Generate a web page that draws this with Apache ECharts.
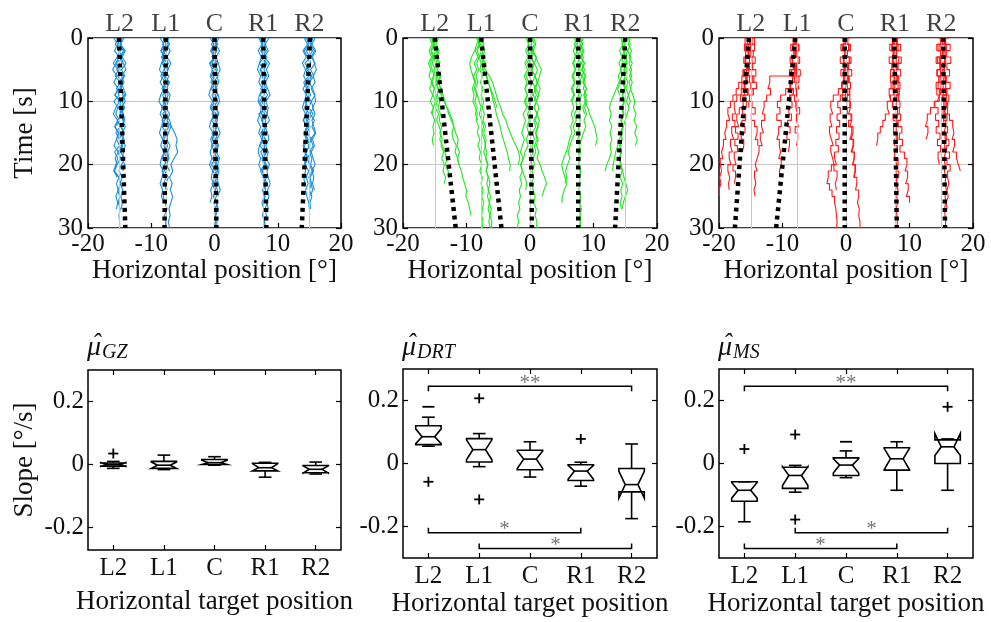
<!DOCTYPE html>
<html>
<head>
<meta charset="utf-8">
<title>Gaze trajectories and slopes</title>
<script src="https://cdn.jsdelivr.net/npm/echarts@6/dist/echarts.min.js"></script>
<style>
  html, body { margin: 0; padding: 0; background: #fff; }
  #chart { width: 991px; height: 622px; }
</style>
</head>
<body>
<div id="chart"></div>
<script>
// ---- values ----
const targetLabels = ['L2', 'L1', 'C', 'R1', 'R2'];
const targetPositions = [-15, -7.7, 0, 7.7, 15];
const sampleTimes = [0, 1, 2, 3, 4, 5, 6, 7, 8, 9, 10, 11, 12, 13, 14, 15, 16, 17, 18, 19, 20,
  21, 22, 23, 24, 25, 26, 27, 28, 29, 30];
const fitTimes = [0, 30];

// dotted fit lines: position at t = 0 and at t = 30
const gzFitStart = [-15.1, -7.7, 0, 7.7, 15.1];
const gzFitEnd = [-14.1, -7.9, 0.3, 8.2, 13.8];
const drtFitStart = [-15, -7.7, 0, 7.6, 15];
const drtFitEnd = [-11.7, -4.5, 0.3, 7.6, 13.4];
const msFitStart = [-15.3, -8.0, -0.2, 7.6, 15.3];
const msFitEnd = [-17.5, -11.0, -0.2, 8.0, 15.6];

// trajectories, one x value per second
const gzTraces = [
  [-15.4,-14.7,-15.2,-14.5,-15.6,-14.9,-15.3,-14.6,-15.1,-15.8,-14.8,-15.2,-14.5,-15.4,-14.9,-15.6,-15.0,-14.6,-15.3,-14.8,-15.5,-15.9,-15.1,-14.8,-15.3,-15.0,-15.2,-14.9,-15.1,-15.0,-15.0],
  [-14.8,-15.3,-14.4,-15.0,-14.6,-15.5,-14.3,-15.1,-14.7,-14.2,-15.2,-14.6,-15.0,-14.3,-14.8,-14.4,-15.1,-14.5,-14.9,-14.2,-14.7,-15.1,-14.6,-14.9,-14.5,-14.8,-14.6,-14.7],
  [-15.1,-15.7,-14.9,-15.4,-16.0,-15.2,-15.7,-14.9,-15.5,-15.1,-15.9,-15.3,-15.6,-15.0,-15.7,-15.2,-15.5,-15.0,-15.8,-15.3,-15.6,-15.9,-15.4],
  [-14.6,-15.0,-14.2,-14.8,-14.4,-14.0,-14.7,-14.3,-14.9,-14.5,-14.1,-14.8,-14.4,-14.2,-14.7,-14.3,-14.6,-14.1,-14.5],
  [-15.9,-15.3,-15.8,-15.1,-15.6,-16.1,-15.4,-15.9,-15.2,-15.7,-15.0,-15.6,-16.0,-15.3,-15.8,-15.1,-15.5,-15.9,-15.2,-15.7,-15.4,-15.8,-15.1,-15.5,-15.2,-15.6,-15.3,-15.5],
  [-14.3,-14.9,-14.1,-14.6,-14.0,-14.7,-14.2,-14.8,-14.4,-14.0,-14.6,-14.2,-14.9,-14.5,-14.1,-14.7,-14.3,-14.8,-14.4,-14.6,-14.2,-14.5],
  [-7.9,-7.3,-8.1,-7.6,-8.3,-7.5,-7.9,-7.2,-8.0,-7.6,-8.2,-7.4,-7.8,-7.1,-6.8,-6.3,-5.9,-6.1,-5.8,-6.4,-6.9,-6.6,-7.1,-6.7,-7.0,-6.6,-6.9,-7.2,-7.0,-7.3,-7.1],
  [-7.5,-8.2,-7.7,-8.4,-7.9,-7.3,-8.0,-7.6,-8.3,-7.8,-7.4,-8.1,-7.7,-8.3,-7.5,-7.9,-8.2,-7.6,-8.0,-7.5,-7.9,-8.3,-7.7,-8.0,-7.6,-8.1,-7.8,-7.5,-7.9,-7.7,-7.8],
  [-8.1,-7.6,-8.4,-7.8,-7.3,-8.0,-8.5,-7.7,-7.4,-8.2,-7.8,-8.4,-7.5,-7.9,-8.3,-7.6,-8.0,-7.4,-7.8,-8.2,-7.5,-7.9,-7.3,-7.7,-7.5],
  [-7.6,-7.1,-7.8,-8.3,-7.4,-8.0,-7.2,-7.7,-8.1,-7.3,-7.9,-7.5,-8.2,-7.6,-7.2,-7.8,-7.4,-8.0,-7.6,-7.3,-7.7],
  [-8.6,-8.0,-8.5,-7.9,-8.4,-8.7,-8.1,-8.6,-8.0,-8.5,-8.8,-8.2,-8.6,-8.1,-8.4,-8.7,-8.2,-8.5,-8.0,-8.4,-8.6,-8.1,-8.3,-8.6,-8.2,-8.4,-8.0],
  [-7.2,-7.7,-7.0,-7.5,-6.9,-7.4,-7.8,-7.1,-7.6,-7.0,-7.3,-7.7,-7.1,-7.5,-6.9,-7.3,-7.6,-7.0,-7.4,-7.2,-7.6,-7.1],
  [0.2,-0.5,0.4,-0.2,0.6,-0.4,0.1,-0.6,0.3,-0.1,0.5,-0.3,0.2,-0.5,0.4,0.0,-0.4,0.3,-0.2,0.6,0.1,-0.3,0.4,0.0,0.5,-0.2,0.3,0.6,0.1,0.4,0.3],
  [-0.3,0.3,-0.6,0.1,-0.4,0.5,-0.2,0.3,-0.5,0.2,-0.1,0.4,-0.4,0.1,-0.3,0.5,0.2,-0.5,0.1,-0.2,0.4,-0.1,0.2,-0.4,0.1,0.3,-0.1,0.2,0.0,0.2,0.1],
  [0.0,0.5,-0.3,0.3,-0.7,0.2,0.6,-0.2,0.4,-0.4,0.1,-0.6,0.3,0.5,-0.1,0.3,-0.3,0.6,-0.1,0.2,-0.5,0.3,-0.2,0.5,0.1,-0.1,0.4,0.2,0.3],
  [0.4,-0.1,0.2,-0.4,0.3,0.0,-0.5,0.4,-0.2,0.5,-0.3,0.2,0.6,-0.1,0.3,-0.4,0.2,-0.1,0.4,-0.3,0.1,0.5,0.0],
  [-0.7,-0.1,-0.6,0.0,-0.8,-0.3,-0.7,-0.2,-0.6,-0.9,-0.3,-0.7,-0.1,-0.5,-0.8,-0.2,-0.6,-0.3,-0.7,-0.4,-0.8,-0.3,-0.5,-0.2,-0.6,-0.4,-0.7],
  [0.7,0.2,0.8,0.3,0.6,0.9,0.4,0.7,0.1,0.6,0.8,0.3,0.7,0.2,0.5,0.9,0.4,0.6,0.3,0.8,0.5,0.7,0.4,0.6,0.9,0.5],
  [7.5,8.1,7.3,7.9,7.1,7.8,8.3,7.4,7.9,7.2,8.0,7.6,8.4,7.5,7.9,7.3,8.1,7.7,8.3,7.6,8.0,7.5,8.2,7.8,8.1,7.7,8.3,8.0,8.2,7.9,8.1],
  [7.9,7.4,8.2,7.6,8.0,7.2,7.7,8.1,7.3,7.8,7.4,8.2,7.0,7.6,8.0,7.4,7.7,7.2,7.9,7.5,7.8,7.3,7.7,8.1,7.6,7.9,7.5,7.8,7.6,7.9,7.8],
  [7.2,7.8,7.5,8.3,7.7,7.3,8.0,7.6,8.2,7.8,7.1,7.6,7.9,7.4,8.2,7.7,7.5,8.0,7.3,7.8,8.2,7.6,7.9,8.3,7.7,8.0,7.8],
  [8.1,7.6,7.9,7.4,8.3,7.8,7.5,8.0,7.7,8.4,7.6,7.9,7.4,8.1,7.8,7.5,8.0,7.7,8.2,7.6],
  [8.6,8.0,8.5,7.9,8.7,8.2,8.6,8.0,8.4,8.8,8.1,8.5,8.3,8.7,8.0,8.4,8.6,8.1,8.5,8.2,8.7,8.3,8.5,8.8,8.4,8.6,8.3,8.5],
  [7.0,7.5,6.9,7.4,7.1,6.8,7.3,7.0,7.6,7.1,6.9,7.4,7.2,6.8,7.3,7.0,7.5,7.1,6.9,7.3,7.0,7.4],
  [15.3,14.7,15.5,14.9,15.2,14.6,15.4,14.8,15.0,14.5,15.3,14.9,15.6,14.7,15.1,14.6,15.4,14.8,15.2,14.7,15.0,15.5,14.9,15.3,15.0,15.4,15.1,15.2],
  [14.8,15.4,14.5,15.1,14.3,14.9,15.3,14.4,14.8,15.2,14.6,14.3,15.0,14.5,14.9,14.2,14.7,15.1,14.4,14.8,14.3,14.9,14.5,14.8,14.4,14.6,14.9,15.0],
  [15.6,15.1,15.8,15.3,15.9,15.2,15.7,15.0,15.5,15.9,15.3,15.6,15.1,15.8,15.4,15.9,15.2,15.6,15.0,15.4,15.2,15.7,15.1,15.3,15.5,15.2],
  [14.5,15.0,14.2,14.7,15.1,14.4,14.9,14.1,14.6,15.0,14.3,14.8,14.5,14.0,14.6,14.3,14.8,14.2,14.5,14.1,14.4],
  [15.9,15.4,16.0,15.5,15.8,16.1,15.6,15.9,15.3,15.8,16.0,15.5,15.9,15.4,15.7,16.0,15.5,15.8,15.3,15.6,15.9,15.4,15.7,15.5,15.8],
  [14.2,14.7,14.0,14.5,13.9,14.4,14.1,14.6,14.0,14.5,14.2,13.9,14.4,14.1,14.6,14.2,14.5,14.0,14.3,14.6,14.2,14.4,14.1,14.3]
];
const drtTraces = [
  [-15.3,-15.0,-15.5,-15.1,-15.4,-14.9,-15.2,-15.6,-15.1,-15.3,-14.9,-15.2,-15.4,-15.0,-15.3,-15.1,-15.4,-15.2],
  [-14.8,-15.1,-14.7,-15.0,-14.6,-14.9,-14.5,-14.8,-14.4,-14.6,-14.2,-14.5,-14.1,-14.3,-13.9,-14.2,-13.8,-14.0,-13.6,-13.9,-13.5,-13.7,-13.3,-13.5],
  [-15.0,-15.3,-14.9,-15.2,-14.8,-15.0,-14.7,-14.9,-14.5,-14.0,-13.6,-13.0,-12.6,-12.2,-12.0,-12.3,-12.1,-11.6,-11.8,-11.4,-11.2,-10.8,-10.6,-10.3,-10.0,-10.1,-9.7,-9.5,-9.3],
  [-15.5,-15.2,-15.6,-15.3,-15.7,-15.4,-15.1,-15.4,-15.0,-14.8,-14.6,-14.9,-14.4,-14.7,-14.3,-14.0,-14.2,-13.8,-13.4,-13.1,-13.3,-12.9,-12.6],
  [-14.6,-14.9,-14.5,-14.8,-14.3,-14.6,-14.2,-14.5,-14.0,-13.7,-13.4,-13.1,-12.8,-12.4,-12.0,-11.7,-11.3,-11.5,-11.1,-11.4,-11.2],
  [-15.8,-15.4,-15.9,-15.5,-16.0,-15.6,-15.9,-15.4,-15.8,-15.3,-15.7,-15.2,-15.6],
  [-14.4,-14.8,-14.3,-14.7,-14.2,-14.6,-14.0,-14.4,-14.1,-13.8],
  [-7.8,-8.1,-7.6,-8.0,-7.7,-7.9,-7.5,-7.8,-7.4,-7.7,-7.3,-7.5,-7.2,-7.4,-7.0,-7.3,-6.9,-7.1,-6.8,-7.0,-6.7,-6.9,-6.6,-6.8,-6.5,-6.7,-6.4,-6.6,-6.3,-6.5,-6.2],
  [-8.0,-8.4,-8.7,-9.2,-9.5,-9.3,-9.0,-8.7,-9.1,-8.8,-9.0,-8.6,-8.3,-8.5,-8.1,-8.3,-7.9,-8.2,-7.8,-8.0,-7.6,-7.9,-7.5,-7.7,-7.4,-7.6,-7.3,-7.5,-7.6,-7.4,-7.5],
  [-7.6,-7.3,-7.7,-7.2,-7.5,-7.0,-6.4,-5.9,-5.6,-5.3,-5.0,-4.6,-4.3,-3.8,-3.5,-3.1,-2.7,-2.2,-1.8,-1.6,-1.9],
  [-7.5,-7.8,-7.4,-7.7,-7.2,-7.5,-6.8,-6.5,-6.3,-6.0,-5.8,-5.5,-5.3,-5.0,-4.7,-4.5,-4.2,-3.9,-3.6,-3.4,-3.1,-3.2],
  [-8.2,-7.9,-8.3,-8.0,-8.4,-8.1,-8.5,-8.2,-8.6,-8.3,-8.0,-7.7,-8.0,-7.6,-7.3,-7.6,-7.2,-7.0,-7.3,-6.9,-6.6,-6.9,-6.5,-6.3,-6.6,-6.2,-6.4,-6.1,-6.3,-6.0,-6.1],
  [-8.4,-8.0,-8.6,-8.2,-8.8,-8.4,-8.9,-8.5,-8.8,-8.4,-8.7,-8.3,-8.6,-8.2],
  [-7.3,-7.6,-7.1,-7.5,-7.0,-7.3,-6.9,-6.6,-6.2,-5.8,-5.5,-5.2],
  [0.1,-0.3,0.4,0.0,0.6,0.2,0.8,0.4,0.9,0.5,1.0,0.6,1.2,0.8,1.3,0.9,1.1,0.7,0.9,0.5,0.7,0.3,0.6,0.2,0.5,0.8,0.6,1.0,0.8,1.1,1.0],
  [-0.2,0.2,-0.4,0.0,-0.5,-0.1,-0.6,-0.2,-0.8,-0.4,-0.9,-0.5,-1.1,-0.7,-1.0,-1.3,-0.9,-1.2,-1.5,-1.1,-1.4,-1.2,-1.6,-1.3,-1.7,-1.5,-1.8,-1.6,-2.0,-1.8,-2.0],
  [0.3,0.7,0.2,0.9,1.3,1.8,1.5,1.2,1.6,1.3,1.0,1.4,1.1,1.5,1.2,0.9,1.3,1.0,1.4,1.1,1.6,1.9,2.3,2.6,2.2,1.9],
  [-0.1,0.3,-0.3,0.2,-0.2,0.4,-0.1,0.3,0.0,0.4,-0.2,0.1,-0.4,-0.1,-0.5,-0.2,-0.6,-0.3,-0.8,-1.0,-1.5,-1.2,-0.8,-0.5,-0.7],
  [0.5,0.1,0.6,0.2,0.7,0.3,0.8,1.2,0.9,1.4,1.0,0.7,1.1,0.6,0.9,0.4,0.7,0.3,0.5,0.1,0.3],
  [-0.6,-0.2,-0.7,-0.3,-0.8,-0.4,-0.9,-0.5,-0.8,-0.4,-0.7,-0.3],
  [0.6,0.9,0.5,1.0,0.7,1.2,0.8,1.1,0.7,1.0,0.6],
  [7.6,7.9,7.4,7.8,7.5,7.9,7.6,8.0,7.7,8.1,7.8,8.0,7.7,7.9,7.6,7.8,7.5,7.8,7.6,7.9,7.7,8.0,7.8,7.9,7.7,8.0,7.8,8.1,7.9,8.0,7.9],
  [7.3,7.0,7.4,7.1,6.9,7.2,6.8,7.1,6.7,7.0,6.6,6.9,6.5,6.8,6.4,6.6,6.2,6.0,5.7,5.3,5.0,5.2,5.5,5.8,5.4,5.1,5.0],
  [8.0,8.3,7.9,8.4,8.1,8.6,8.2,8.7,8.4,8.9,8.6,9.1,9.4,9.8,10.2,10.4,10.6,10.3],
  [7.8,7.4,7.9,7.5,8.0,7.6,8.2,7.8,7.3,7.7,7.2,7.5,7.0,7.3,6.8,7.1,6.6,6.3,6.0,6.3,5.9,5.6,5.8,5.5],
  [7.5,7.9,8.3,8.0,8.5,8.1,8.7,8.3,8.9,8.5,9.0,8.6,8.9,8.5,8.8,8.4,8.1,7.8,8.0,7.6,7.8],
  [8.4,8.0,8.5,8.1,8.6,8.2,8.8,8.4,8.9,8.5,8.8,8.3,8.6],
  [7.0,7.3,6.8,7.2,6.7,7.1,6.6,7.0,6.5,6.9,6.4],
  [15.2,14.9,15.4,15.0,15.3,14.8,15.1,14.7,15.0,14.6,14.9,14.5,14.8,14.4,14.6,14.3,14.5,14.2,14.4,14.1,14.3,14.5,14.2,14.6,14.3,14.5,14.2,14.4],
  [14.8,14.5,14.9,14.4,14.7,14.2,14.5,14.0,13.6,13.2,12.8,12.5,12.8,12.5,12.9,12.6,12.9,12.6,12.8,12.5,12.1,11.8],
  [15.5,15.8,15.4,15.9,15.6,16.0,15.7,16.1,15.8,16.2,16.5,16.3,16.7,16.4,16.8,16.5,16.9,16.6],
  [15.0,14.6,15.1,14.7,15.2,14.8,15.0,14.6,14.9,14.5,14.8,14.4,14.7,14.3,14.6,14.2,14.5,14.1,14.4,14.0,14.3,14.6,14.8,15.1,15.4,15.0,14.7,14.5],
  [14.6,15.0,14.7,15.2,14.9,15.3,15.0,15.4,15.1,15.5,15.2,15.6,15.3,15.0,14.7,14.4,14.1,13.8,13.5,13.3,13.1,13.0],
  [15.8,15.5,16.0,15.6,16.1,15.7,16.0,15.6,15.9,15.5,15.8,15.4],
  [14.3,14.6,14.1,14.5,14.0,14.4,13.9,14.2,13.8,14.1]
];
const msTraces = [
  [-15.3,-14.8,-15.6,-15.1,-15.8,-15.2,-16.0,-16.4,-16.9,-17.3,-17.8,-18.2,-18.6,-18.3,-18.8,-19.1,-18.9,-19.3,-19.6,-19.4,-19.8,-19.6,-19.9,-19.7,-20.0,-19.9],
  [-15.0,-15.5,-14.9,-15.4,-14.8,-15.3,-15.7,-15.2,-15.9,-16.5,-17.2,-17.6,-17.4,-17.9,-17.5,-18.0,-17.7,-18.2,-17.9,-18.4,-18.1,-18.6,-18.3,-18.5,-18.4],
  [-15.6,-15.1,-15.8,-15.3,-15.9,-15.4,-16.1,-15.6,-16.0,-15.5,-16.2,-15.7,-16.3,-15.8,-16.4,-15.9,-16.5,-16.1,-16.3],
  [-14.9,-14.4,-15.0,-14.6,-15.2,-14.7,-15.3,-14.5,-15.0,-14.6,-15.2,-14.8,-14.3,-14.9,-14.4,-14.0,-14.3,-13.9],
  [-15.4,-15.9,-15.3,-15.8,-15.2,-15.7,-16.2,-15.8,-16.4,-16.0,-16.6,-16.2,-16.8,-17.2,-16.9,-17.4,-17.0,-17.5,-17.1,-17.6,-17.3,-17.8,-17.4,-17.6],
  [-15.8,-15.2,-16.0,-15.4,-16.1,-15.5,-16.2,-15.6,-16.0,-15.4,-15.9,-15.3],
  [-14.6,-15.1,-14.4,-14.9,-14.3,-14.8,-14.2,-14.7,-14.1,-14.6],
  [-8.1,-7.8,-8.3,-7.9,-8.4,-8.0,-8.2,-12.0,-12.3,-11.9,-12.5,-12.9,-13.2,-12.8,-13.3,-13.0,-13.5,-13.2,-13.7,-14.0,-14.3,-14.0,-14.4,-14.2,-14.5,-14.3],
  [-7.9,-8.3,-7.7,-8.2,-7.6,-8.1,-7.8,-8.4,-8.8,-9.5,-10.3,-10.8,-10.4,-10.9,-10.2,-10.6,-10.9,-10.5,-10.3,-10.6,-10.2,-10.5,-10.4],
  [-8.2,-7.7,-8.4,-7.9,-8.5,-8.0,-8.6,-8.1,-8.7,-8.3,-8.9,-8.5,-9.0,-8.6,-9.2,-8.8,-9.3,-8.9,-9.1],
  [-7.7,-8.1,-7.5,-8.0,-7.6,-8.2,-7.8,-7.4,-7.9,-7.6,-8.1,-7.7,-7.3,-7.8,-7.5,-8.0,-7.6,-7.8],
  [-8.6,-8.0,-8.7,-8.2,-8.8,-8.3,-8.9,-8.4,-8.8,-8.3,-8.7],
  [-7.5,-8.0,-7.4,-7.9,-7.3,-7.8,-7.2,-7.7,-7.4,-7.8,-7.5,-7.9,-7.6],
  [0.2,-0.3,0.4,-0.2,0.5,0.0,-0.4,0.3,-0.6,-1.2,-2.0,-2.4,-2.1,-2.5,-2.2,-2.6,-2.3,-2.0,-2.4,-2.1,-1.9,-2.3,-2.8,-3.0,-2.6,-2.2,-1.8,-1.6,-1.5,-1.4,-1.5],
  [-0.2,0.3,-0.4,0.2,-0.3,0.4,0.0,0.5,0.1,0.6,0.2,0.7,0.4,0.9,0.6,1.1,0.8,1.2,0.9,1.3,1.1,1.5,1.3,1.7,1.5,2.0,1.8,2.1,2.0,2.2,2.2],
  [0.4,-0.1,0.5,0.0,0.6,-0.2,0.3,-0.4,0.2,-0.5,-0.9,-1.3,-0.9,-1.4,-1.0,-1.5,-1.1,-1.6,-1.2,-1.8,-1.5,-1.9,-1.4,-1.7,-1.5],
  [-0.5,0.1,-0.6,0.2,-0.4,0.3,-0.2,0.4,0.0,0.5,-0.1,0.6,0.2,0.8,0.4,0.9,0.6,1.1,0.8,1.3,1.0,1.4,1.2],
  [-0.7,-0.1,-0.8,-0.2,-0.9,-0.3,-0.8,-0.2,-0.7,-0.1,-0.6],
  [0.6,0.0,0.7,0.1,0.8,0.2,0.9,0.3,0.7,0.2,0.6,0.1],
  [7.6,8.1,7.3,7.9,7.5,8.2,7.7,8.3,7.8,8.4,7.9,8.5,8.1,8.6,8.2,8.8,8.4,8.9,8.5,9.2,9.6,9.3,9.7,9.4,9.8,9.5,10.0],
  [7.8,7.3,8.0,7.4,7.9,7.2,7.6,7.0,7.4,6.8,7.1,6.5,6.8,6.2,5.8,5.4,5.0,4.8],
  [7.4,7.9,7.2,7.8,7.3,8.0,7.5,8.1,7.6,8.2,7.7,7.3,7.8,7.4,7.9,7.5,8.0,7.6,8.1,7.7,8.2,7.8,8.3,7.9,8.1],
  [8.0,7.5,8.2,7.7,8.3,7.8,8.1,7.6,8.2,7.7,8.3,7.9,8.4,8.0,8.3,7.9,8.2,7.8,8.1,7.7,8.0,7.8,8.1,7.9,8.2,8.0,8.1,7.9,8.0,8.1,8.0],
  [8.5,7.9,8.6,8.0,8.7,8.1,8.6,8.0,8.5,8.1,8.4],
  [7.0,7.6,6.9,7.5,6.8,7.4,7.0,7.6,7.1,7.5,7.0,7.4],
  [15.2,15.7,15.0,15.6,14.9,15.5,15.1,15.8,15.3,15.9,15.4,16.0,15.6,16.3,16.8,17.0,16.7,17.1,16.8,17.4,17.7,18.0],
  [15.4,14.9,15.6,15.0,15.5,14.8,15.3,14.6,15.0,14.3,14.7,13.9,13.3,12.8,12.5,12.9,12.6],
  [15.0,15.5,14.8,15.4,14.7,15.3,14.9,15.6,15.0,15.7,15.2,15.8,15.3,15.9,15.4,16.0,15.6,16.2,15.8,16.3,15.9,16.4,16.0,16.2,15.9,16.1,15.8,15.9],
  [15.6,15.1,15.8,15.2,15.7,15.0,15.5,15.2,15.7,15.3,15.8,15.4,15.6,15.3,15.7,15.4,15.8,15.5,15.7,15.4,15.6,15.5,15.7,15.6,15.8,15.6,15.7,15.5,15.6,15.7,15.6],
  [14.7,15.2,14.5,15.0,14.4,14.9,14.3,14.8,14.2,14.7,14.4,14.0,14.5,14.1,14.6,14.2,14.8,14.4,14.9,14.5,14.7],
  [16.2,15.6,16.4,15.8,16.5,15.9,16.3,15.7,16.4,15.8,16.2,15.6,16.0],
  [14.5,15.1,14.3,14.9,14.2,14.8,14.4,15.0,14.5,14.9]
];

// slope boxes per target: [min, q1, median, q3, max] and notch [low, high]
const gzBoxes = [[-0.012, -0.005, 0, 0.005, 0.01], [-0.016, -0.012, -0.002, 0.01, 0.03], [-0.002, 0, 0.006, 0.016, 0.025], [-0.04, -0.02, -0.01, 0.004, 0.007], [-0.03, -0.026, -0.015, -0.003, 0.008]];
const gzNotches = [[-0.006, 0.006], [-0.012, 0.008], [0, 0.014], [-0.02, 0.003], [-0.027, -0.004]];
const gzOutliers = [[0, 0.035]];
const gzDashes = [];
const gzBrackets = [];

const drtBoxes = [[0.055, 0.06, 0.085, 0.12, 0.147], [-0.01, 0.005, 0.044, 0.079, 0.095], [-0.043, -0.02, 0.014, 0.042, 0.069], [-0.072, -0.054, -0.024, -0.004, 0.004], [-0.175, -0.09, -0.067, -0.016, 0.062]];
const drtNotches = [[0.063, 0.11], [0.012, 0.075], [-0.016, 0.04], [-0.05, -0.006], [-0.11, -0.025]];
const drtOutliers = [[0, -0.058], [1, 0.207], [1, -0.114], [3, 0.078]];
const drtDashes = [[0, 0.18]];
const drtBrackets = [[0, 4, 0.245], [0, 3, -0.22], [1, 4, -0.27]];
const drtStars = ['**', '*', '*'];

const msBoxes = [[-0.185, -0.12, -0.085, -0.058, -0.058], [-0.091, -0.079, -0.038, -0.012, -0.006], [-0.045, -0.038, -0.005, 0.018, 0.04], [-0.085, -0.021, 0.015, 0.05, 0.069], [-0.085, 0, 0.053, 0.075, 0.078]];
const msNotches = [[-0.11, -0.06], [-0.07, -0.01], [-0.03, 0.015], [-0.02, 0.048], [0.025, 0.095]];
const msOutliers = [[0, 0.046], [1, 0.092], [1, -0.178], [4, 0.18]];
const msDashes = [[2, 0.069]];
const msBrackets = [[0, 4, 0.245], [1, 4, -0.22], [0, 3, -0.27]];
const msStars = ['**', '*', '*'];

const slopeTicks = [-0.2, 0, 0.2];
const estimatorSubscripts = ['GZ', 'DRT', 'MS'];

// ---- chart ----
const chart = echarts.init(document.getElementById('chart'));
const serif = 'Liberation Serif';
const ink = '#000';
const colors = ['#1a8fd8', '#22e622', '#ff1a1a'];

const grids = [
  { left: 88, top: 38, width: 253, height: 190 },
  { left: 403, top: 38, width: 254, height: 190 },
  { left: 719, top: 38, width: 254, height: 190 },
  { left: 88, top: 370, width: 253, height: 180 },
  { left: 403, top: 369, width: 254, height: 189 },
  { left: 719, top: 369, width: 254, height: 189 }
].map(g => Object.assign({ show: true, borderColor: ink, borderWidth: 1.5 }, g));

const noLine = () => ({ show: false, onZero: false });
const tickIn = extra => Object.assign({ show: true, inside: true, length: 5, lineStyle: { color: ink, width: 1.2 } }, extra);
const labelFont = { color: '#111', fontFamily: serif, fontSize: 25 };
const nameFont = { color: '#111', fontFamily: serif, fontSize: 27 };

const xAxes = [];
const yAxes = [];
// top row: position vs time
[0, 1, 2].forEach(g => {
  xAxes.push({ gridIndex: g, type: 'value', min: -20, max: 20, interval: 10, position: 'bottom',
    axisLine: noLine(), axisTick: tickIn(), splitLine: { show: false },
    axisLabel: Object.assign({ margin: 4 }, labelFont),
    name: 'Horizontal position [°]', nameLocation: 'middle', nameGap: 27, nameTextStyle: nameFont });
  yAxes.push({ gridIndex: g, type: 'value', inverse: true, min: 0, max: 30, interval: 10, position: 'left',
    axisLine: noLine(), axisTick: tickIn(),
    splitLine: { show: true, lineStyle: { color: '#c8c8c8', width: 1 } },
    axisLabel: Object.assign({ margin: 5 }, labelFont),
    name: g === 0 ? 'Time [s]' : '', nameLocation: 'middle', nameGap: 50, nameTextStyle: nameFont });
  yAxes.push({ gridIndex: g, type: 'value', inverse: true, min: 0, max: 30, interval: 10, position: 'right',
    axisLine: noLine(), axisTick: tickIn(), axisLabel: { show: false }, splitLine: { show: false } });
});
// bottom row: slopes
[3, 4, 5].forEach(g => {
  xAxes.push({ gridIndex: g, type: 'category', data: targetLabels, position: 'bottom',
    axisLine: noLine(), axisTick: tickIn({ alignWithLabel: true }),
    axisLabel: Object.assign({ margin: 6 }, labelFont),
    name: 'Horizontal target position', nameLocation: 'middle', nameGap: g === 3 ? 38 : 32, nameTextStyle: nameFont });
  xAxes.push({ gridIndex: g, type: 'category', data: targetLabels, position: 'top',
    axisLine: noLine(), axisTick: tickIn({ alignWithLabel: true }), axisLabel: { show: false } });
  const yMin = g === 3 ? -0.271 : -0.3;
  yAxes.push({ gridIndex: g, type: 'value', min: yMin, max: 0.3, position: 'left',
    axisLine: noLine(), splitLine: { show: false },
    axisTick: tickIn({ customValues: slopeTicks }),
    axisLabel: Object.assign({ margin: 4, customValues: slopeTicks,
      formatter: v => (v === 0 ? '0' : v.toFixed(1)) }, labelFont),
    name: g === 3 ? 'Slope [°/s]' : '', nameLocation: 'middle', nameGap: 50, nameTextStyle: nameFont });
  yAxes.push({ gridIndex: g, type: 'value', min: yMin, max: 0.3, position: 'right',
    axisLine: noLine(), splitLine: { show: false },
    axisTick: tickIn({ customValues: slopeTicks }), axisLabel: { show: false } });
});

const series = [];
const topPanels = [
  { traces: gzTraces, fitStart: gzFitStart, fitEnd: gzFitEnd },
  { traces: drtTraces, fitStart: drtFitStart, fitEnd: drtFitEnd },
  { traces: msTraces, fitStart: msFitStart, fitEnd: msFitEnd }
];
topPanels.forEach((p, g) => {
  const ax = { xAxisIndex: g, yAxisIndex: g * 2 };
  // vertical grid lines at the target positions
  series.push(Object.assign({ type: 'line', data: [], silent: true, z: 1,
    markLine: { silent: true, symbol: 'none', animation: false, label: { show: false },
      lineStyle: { color: '#c8c8c8', width: 1, type: 'solid' },
      data: targetPositions.map(v => ({ xAxis: v })) } }, ax));
  p.traces.forEach(xs => {
    series.push(Object.assign({ type: 'line', silent: true, showSymbol: false, symbol: 'none', z: 3,
      step: g === 2 ? 'end' : false,
      lineStyle: { color: colors[g], width: 1.1 },
      data: xs.map((x, k) => [x, sampleTimes[k]]) }, ax));
  });
  p.fitStart.forEach((s, i) => {
    series.push(Object.assign({ type: 'line', silent: true, showSymbol: false, symbol: 'none', z: 5,
      lineStyle: { color: ink, width: 4.5, type: [4, 4.5], cap: 'butt' },
      data: [[s, fitTimes[0]], [p.fitEnd[i], fitTimes[1]]] }, ax));
  });
  // target names above the panel
  series.push(Object.assign({ type: 'scatter', silent: true, clip: false, symbolSize: 0, z: 6,
    data: targetPositions.map(v => [v, 0]),
    label: Object.assign({ show: true, position: 'top', distance: 1,
      formatter: prm => targetLabels[prm.dataIndex] }, labelFont, { fontSize: 26 }) }, ax));
});

function renderBox(params, api) {
  const i = api.value(0);
  const lo = api.value(1), q1 = api.value(2), med = api.value(3), q3 = api.value(4), hi = api.value(5);
  const nlo = api.value(6), nhi = api.value(7);
  const half = api.size([1, 0])[0] * 0.25;
  const cx = api.coord([i, med])[0];
  const py = v => api.coord([i, v])[1];
  const st = { stroke: ink, lineWidth: 1.6, fill: null };
  const seg = (x1, y1, x2, y2) => ({ type: 'line', shape: { x1, y1, x2, y2 }, style: st });
  return { type: 'group', children: [
    { type: 'polygon', style: st, shape: { points: [
      [cx - half, py(q1)], [cx - half, py(nlo)], [cx - half / 2, py(med)], [cx - half, py(nhi)], [cx - half, py(q3)],
      [cx + half, py(q3)], [cx + half, py(nhi)], [cx + half / 2, py(med)], [cx + half, py(nlo)], [cx + half, py(q1)]
    ] } },
    seg(cx - half / 2, py(med), cx + half / 2, py(med)),
    seg(cx, py(q3), cx, py(hi)), seg(cx - half / 2, py(hi), cx + half / 2, py(hi)),
    seg(cx, py(q1), cx, py(lo)), seg(cx - half / 2, py(lo), cx + half / 2, py(lo))
  ] };
}
function renderPlus(params, api) {
  const c = api.coord([api.value(0), api.value(1)]);
  const st = { stroke: ink, lineWidth: 1.8 };
  return { type: 'group', children: [
    { type: 'line', shape: { x1: c[0] - 5, y1: c[1], x2: c[0] + 5, y2: c[1] }, style: st },
    { type: 'line', shape: { x1: c[0], y1: c[1] - 5, x2: c[0], y2: c[1] + 5 }, style: st }
  ] };
}
function renderDash(params, api) {
  const c = api.coord([api.value(0), api.value(1)]);
  return { type: 'line', shape: { x1: c[0] - 6, y1: c[1], x2: c[0] + 6, y2: c[1] }, style: { stroke: ink, lineWidth: 1.8 } };
}
function bracketRenderer(stars) {
  return (params, api) => {
    const y = api.value(2);
    const a = api.coord([api.value(0), y]);
    const b = api.coord([api.value(1), y]);
    const tick = y > 0 ? 5 : -5;
    return { type: 'group', children: [
      { type: 'polyline', shape: { points: [[a[0], a[1] + tick], [a[0], a[1]], [b[0], b[1]], [b[0], b[1] + tick]] },
        style: { stroke: ink, lineWidth: 1.5, fill: null } },
      { type: 'text', style: { text: stars[params.dataIndex], x: (a[0] + b[0]) / 2, y: a[1] - 3,
        align: 'center', verticalAlign: 'middle', fontFamily: serif, fontSize: 21, fill: '#777' } }
    ] };
  };
}

const bottomPanels = [
  { boxes: gzBoxes, notches: gzNotches, outliers: gzOutliers, dashes: gzDashes, brackets: gzBrackets, stars: [] },
  { boxes: drtBoxes, notches: drtNotches, outliers: drtOutliers, dashes: drtDashes, brackets: drtBrackets, stars: drtStars },
  { boxes: msBoxes, notches: msNotches, outliers: msOutliers, dashes: msDashes, brackets: msBrackets, stars: msStars }
];
bottomPanels.forEach((p, k) => {
  const ax = { xAxisIndex: 3 + k * 2, yAxisIndex: 6 + k * 2 };
  series.push(Object.assign({ type: 'custom', renderItem: renderBox, silent: true, z: 4,
    encode: { x: 0, y: [1, 2, 3, 4, 5] },
    data: p.boxes.map((b, i) => [i].concat(b, p.notches[i])) }, ax));
  series.push(Object.assign({ type: 'custom', renderItem: renderPlus, silent: true, z: 4,
    encode: { x: 0, y: 1 }, data: p.outliers }, ax));
  series.push(Object.assign({ type: 'custom', renderItem: renderDash, silent: true, z: 4,
    encode: { x: 0, y: 1 }, data: p.dashes }, ax));
  series.push(Object.assign({ type: 'custom', renderItem: bracketRenderer(p.stars), silent: true, z: 4,
    encode: { x: [0, 1], y: 2 }, data: p.brackets }, ax));
});

// panel titles: italic mu with a hat and a subscript
const titleLefts = [87, 402, 718];
const panelTitles = [];
estimatorSubscripts.forEach((sub, k) => {
  const x = titleLefts[k];
  const it = { fontFamily: serif, fontStyle: 'italic', fill: '#111' };
  panelTitles.push(
    { type: 'text', left: x, top: 334, silent: true, style: Object.assign({ text: 'μ', fontSize: 28 }, it) },
    { type: 'text', left: x + 5, top: 331, silent: true, style: Object.assign({ text: 'ˆ', fontSize: 26 }, it) },
    { type: 'text', left: x + 15, top: 343, silent: true, style: Object.assign({ text: sub, fontSize: 20 }, it) }
  );
});

chart.setOption({
  animation: false,
  backgroundColor: '#fff',
  graphic: panelTitles,
  grid: grids,
  xAxis: xAxes,
  yAxis: yAxes,
  series: series
});
window.addEventListener('resize', () => chart.resize());
</script>
</body>
</html>
